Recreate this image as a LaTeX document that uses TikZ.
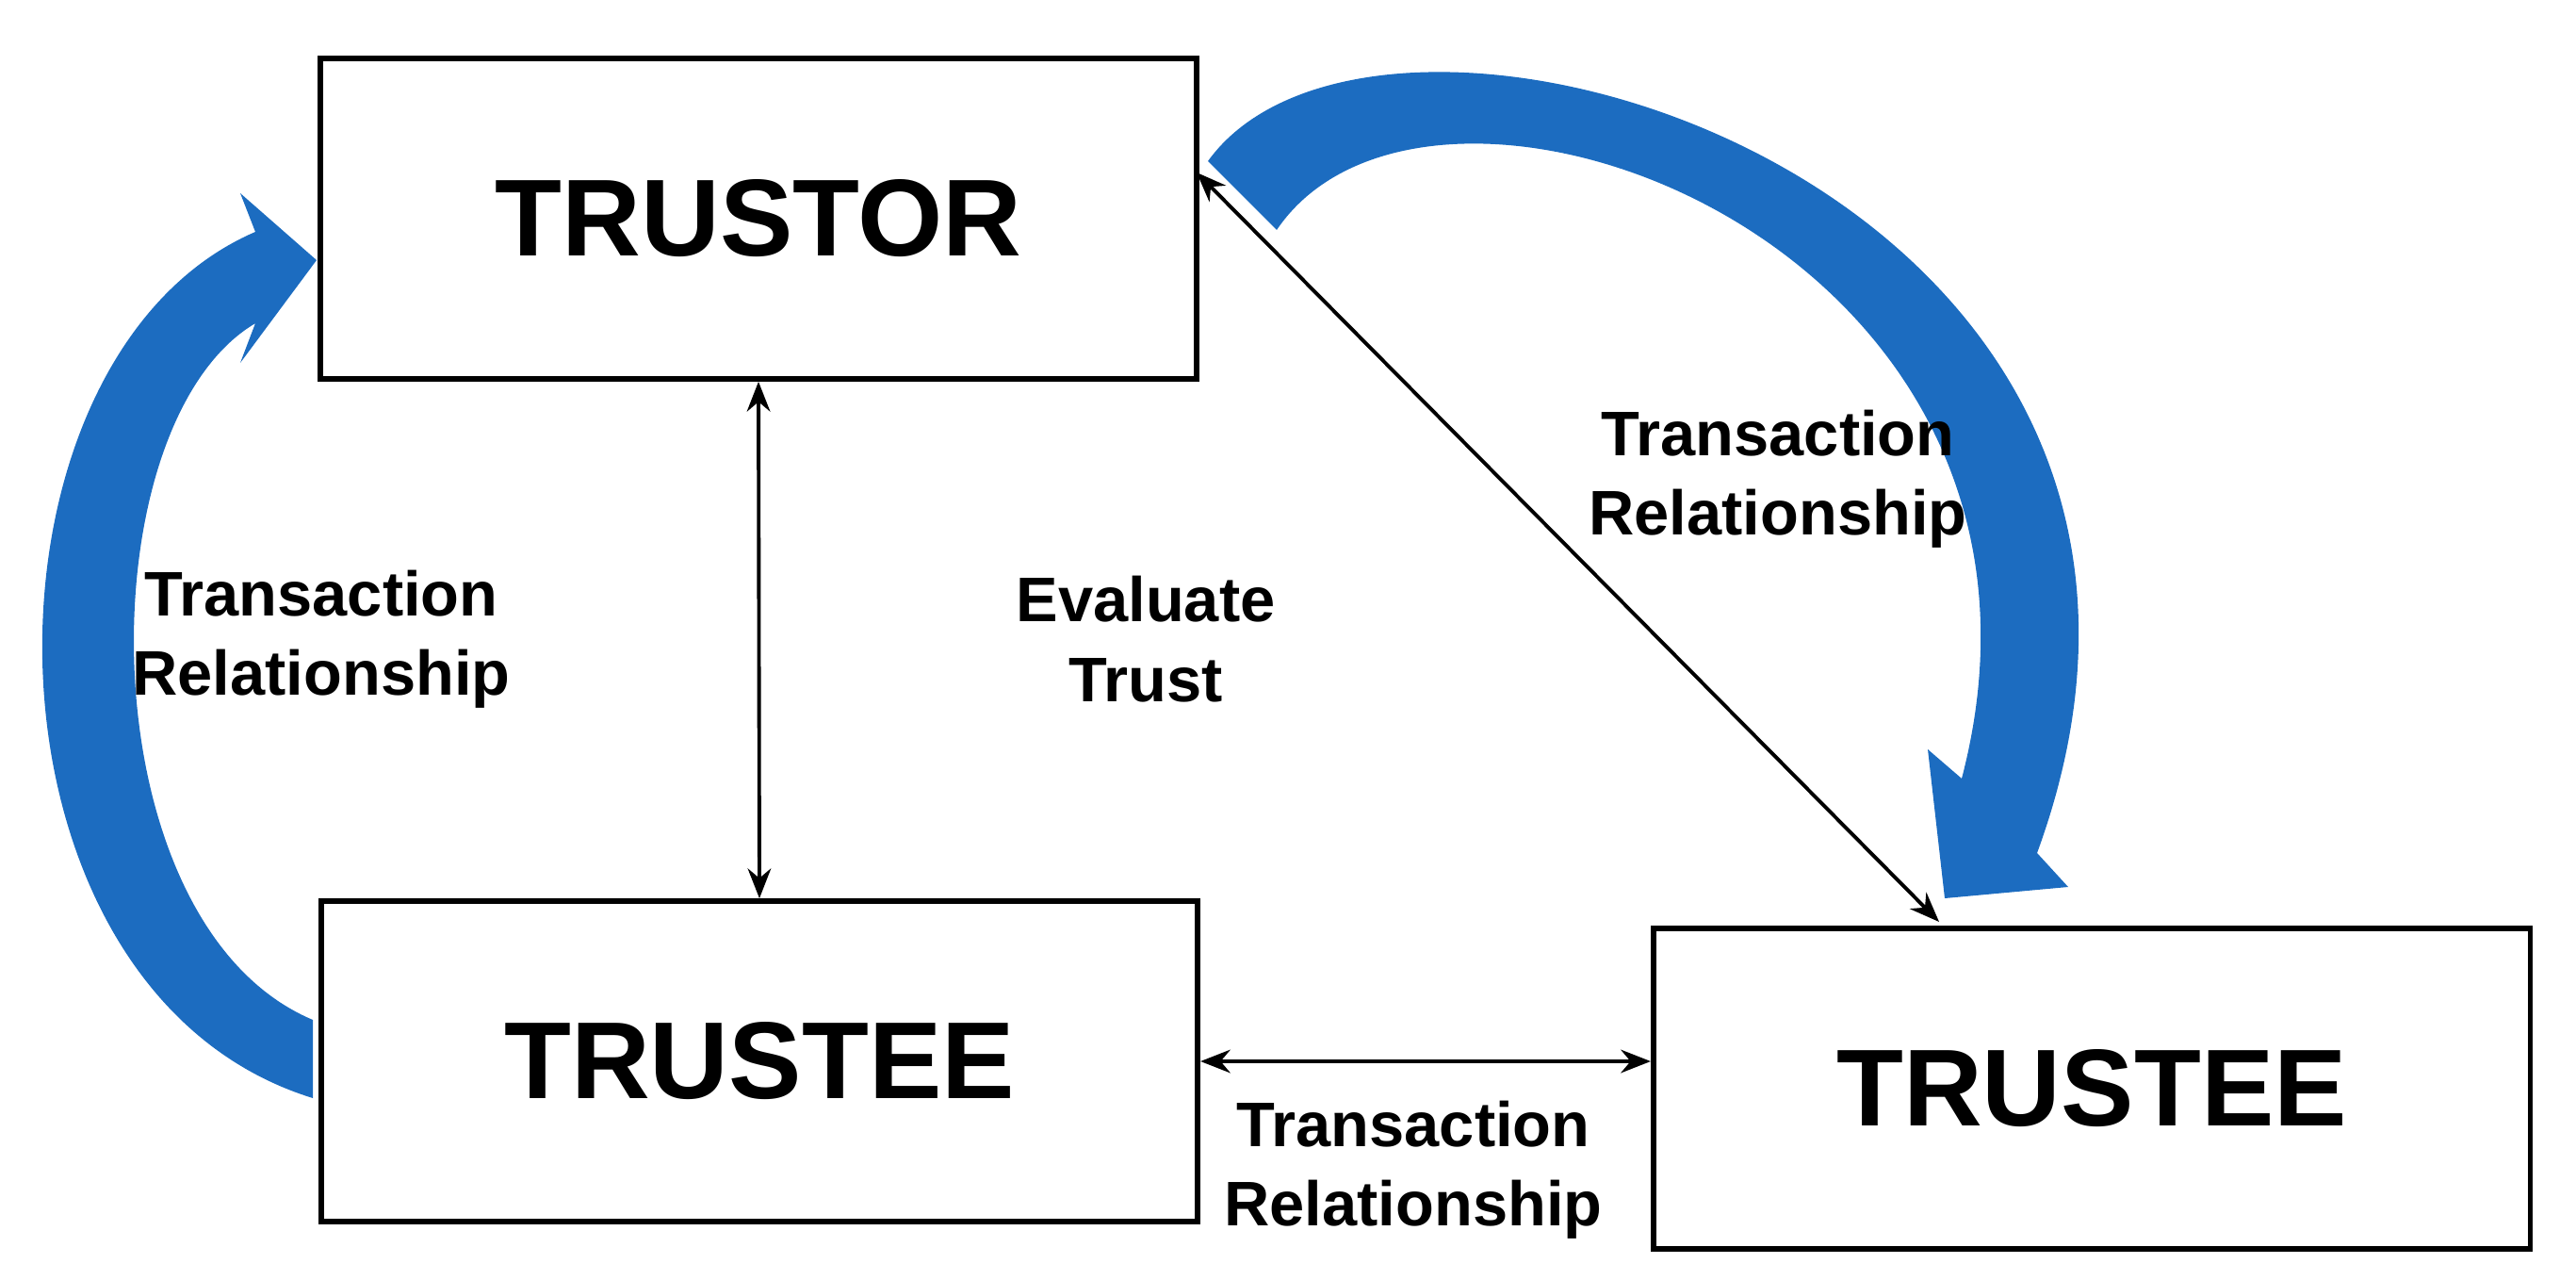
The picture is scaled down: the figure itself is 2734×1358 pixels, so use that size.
\documentclass[tikz,border=0pt]{standalone}
\usepackage{fontspec}
\setmainfont{Liberation Sans}
\usetikzlibrary{arrows.meta}
\definecolor{arrowblue}{HTML}{1C6CC0}
\begin{document}
\begin{tikzpicture}[x=0.01cm,y=-0.01cm,
  box/.style={draw,line width=1.6pt,minimum width=9.3cm,minimum height=3.4cm,font=\fontsize{33}{38}\selectfont\bfseries},
  lbl/.style={align=center,font=\fontsize{19}{24}\selectfont\bfseries},
  conn/.style={line width=1.1pt,{Stealth[length=9pt,width=7pt]}-{Stealth[length=9pt,width=7pt]}}]
\useasboundingbox (0,0) rectangle (2734,1358);
\node[box] (tor) at (805,232) {TRUSTOR};
\node[box] (tee1) at (806,1126) {TRUSTEE};
\node[box] (tee2) at (2220,1155) {TRUSTEE};
% blue arrows
\fill[arrowblue] (332,1082) .. controls (90,980) and (90,450) .. (271,343) -- (255,385) -- (336,276) -- (255,205) -- (271,246) .. controls (-40,380) and (-40,1050) .. (332,1165) -- cycle;
\fill[arrowblue] (1282,171) .. controls (1470,-90) and (2420,200) .. (2162,905) -- (2195,941) -- (2064,953) -- (2046,795) -- (2082,826) .. controls (2230,260) and (1520,0) .. (1355,244) -- cycle;
% connectors
\draw[conn] (tor.south) -- (tee1.north);
\coordinate (d1) at (1270,183);
\coordinate (d2) at (2058,978);
\draw[conn] (d1) -- (d2);
\draw[conn] (tee1.east |- 0,1126) -- (tee2.west |- 0,1126);
% labels
\node[lbl] (l1) at (341,678) {Transaction\\Relationship};
\node[lbl] (l2) at (1216,678) {Evaluate\\Trust};
\node[lbl] (l3) at (1887,508) {Transaction\\Relationship};
\node[lbl] (l4) at (1500,1241) {Transaction\\Relationship};
\end{tikzpicture}
\end{document}
